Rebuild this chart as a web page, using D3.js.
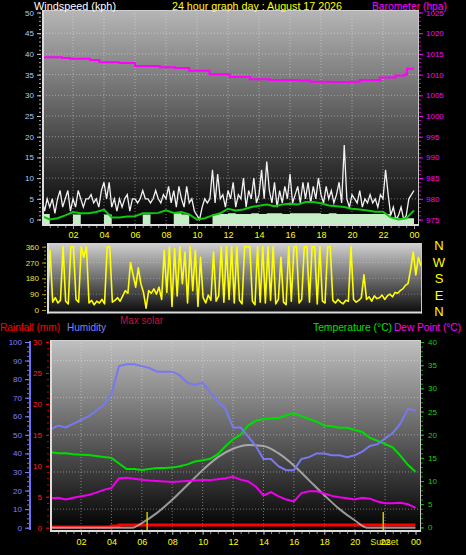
<!DOCTYPE html>
<html><head><meta charset="utf-8">
<script src="https://cdn.jsdelivr.net/npm/d3@7"></script>
<style>
body{margin:0;background:#000;}
svg{display:block;font-family:"Liberation Sans",Arial,sans-serif;}
</style></head>
<body><svg id="c" width="466" height="555"></svg>
<script>
// ---------------- DATA ----------------
const hourLabels = ["02","04","06","08","10","12","14","16","18","20","22","00"];
const windTicks = [0,5,10,15,20,25,30,35,40,45,50];
const baroTicks = [975,980,985,990,995,1000,1005,1010,1015,1020,1025];
const dirTicks = [0,90,180,270,360];
const dirLetters = ["N","W","S","E","N"];
const humTicks = [0,10,20,30,40,50,60,70,80,90,100];
const rainTicks = [0,5,10,15,20,25,30];
const tempTicks = [0,5,10,15,20,25,30,35,40];

// wind gust, kph, every 10 minutes from 00:00 to 24:00
const windGust = [
 5,2,5,3,5,1.5, 5,7,3,5,7,2, 5,3,7,5,3,5, 5,6,4,5,3,7,
 9,5,9,3,5,2, 5,3,5,6,2,5, 5,4,5,7,5,5, 4,5,7,5,4,6,
 5,8,4,7,3,8, 5,3,8,4,5,2, 1,0,3,5,4,5, 12,4,11,5,6,3,
 7,5,9,3,6,5, 10,3,7,5,10,4, 6,12,5,14,7,4, 9,3,7,4,8,5,
 11,4,6,8,4,9, 5,9,4,8,5,10, 6,4,8,5,7,4, 6,9,4,18,5,3,
 6,5,4,7,3,5, 4,6,4,5,3,6, 5,12,6,1,3,0, 1,3,0,1,5,6,
 7];
// average wind, kph, every 30 minutes
const windAvg = [0.8,0, 0.3,1.0, 1.8,1.5, 1.5,1.8, 2.4,0.5, 0.5,0.7, 0.8,1.5, 1.5,1.6,
 2.2,1.6, 1.8,1.2, 0,0.3, 1.0,1.5, 2.6,2.2, 2.4,3.0, 3.3,3.6, 3.2,3.6, 3.8,3.6,
 4.2,4.2, 3.9,3.4, 3.2,3.0, 2.6,2.4, 2.2,1.9, 1.9,0.5, 0,0.3, 2.2];
// wind speed, kph, every 30 minutes
const windSpeed = [1.3,0, 0,0, 1.2,0, 0,0, 1.2,0, 0,0, 0,1.2, 0,0, 0,1.5, 1.2,0, 0,0,
 1.3,1.3, 1.5,1.3, 1.3,1.5, 1.3,1.5, 1.5,1.3, 1.5,1.5, 1.5,1.5, 1.3,1.5, 1.3,1.3,
 1.3,1.3, 1.3,1.3, 1.3,0.5, 0.3,0.3, 0];
// barometer, hPa
const baroHours = [0,1.3,1.8,3.1,3.7,5.0,6.0,7.6,8.6,9.5,10.8,12.1,13.4,14.7,16.6,17.3,18.6,19.9,20.5,21.8,22.8,23.4,23.55,24];
const baroValues = [1014.2,1014.0,1013.8,1013.5,1013.0,1012.8,1012.1,1011.8,1011.6,1010.9,1010.1,1009.4,1008.9,1008.7,1008.6,1008.3,1008.2,1008.3,1008.7,1009.3,1009.8,1010.0,1011.4,1011.4];
// wind direction, degrees, every 10 minutes
const windDir = [
 60,340,45,70,40,55, 360,50,35,360,360,60, 45,360,300,360,40,55,
 30,50,40,60,35,360, 360,45,55,70,50,80, 110,95,270,200,130,240,
 150,100,10,110,95,120, 90,130,60,340,100,360, 20,350,80,360,150,330,
 40,360,110,340,20,300, 70,40,85,55,330,50, 80,360,45,360,60,360,
 40,360,55,35,360,360, 360,50,30,360,45,360, 40,360,55,360,35,60,
 300,45,30,360,50,360, 360,40,60,360,360,45, 360,360,35,360,50,40,
 360,360,55,40,60,45, 35,55,50,360,60,45, 55,70,200,60,75,50,
 80,65,70,85,60,80, 90,75,100,95,110,120, 140,150,230,330,200,300,
 250];
// humidity %, temperature °C, dew point °C, rainfall mm : every 30 minutes
const humidity = [53,55, 54,56, 58,60, 63,66, 72,87, 88,88, 87,86, 84,84, 84,82, 78,77,
 78,73, 68,64, 54,54, 49,44, 37,37, 33,31, 31,37, 38,40, 40,39, 39,38, 39,41, 44,45,
 48,51, 56,64, 63];
const temperature = [16.2,16.0, 16.0,15.8, 15.7,15.6, 15.4,15.2, 15.0,13.8, 12.6,12.6,
 12.4,12.6, 12.8,12.8, 12.9,13.2, 13.6,14.2, 14.5,14.8, 15.8,17.5, 19.0,20.0, 22.0,23.0,
 23.4,23.5, 23.6,24.2, 24.6,24.0, 23.4,22.8, 22.0,21.8, 21.5,21.5, 21.0,20.6, 19.3,18.7,
 18.0,17.3, 15.5,13.5, 12.0];
const dewPoint = [6.3,6.4, 6.0,6.4, 6.7,7.0, 7.5,8.1, 8.5,10.6, 10.7,10.5, 10.3,10.1,
 10.0,9.9, 9.8,9.9, 10.0,10.1, 10.2,10.2, 10.4,10.6, 10.9,10.3, 9.9,8.8, 6.9,7.6,
 6.7,6.0, 5.6,7.4, 7.8,7.8, 7.3,6.8, 6.5,6.3, 6.0,6.4, 6.2,5.6, 5.2,5.2, 5.3,5.0, 4.2];
const rainfall = [0,0, 0,0, 0,0, 0,0, 0.15,0.3, 0.3,0.3, 0.3,0.3, 0.3,0.3, 0.3,0.3, 0.3,0.3,
 0.3,0.3, 0.3,0.3, 0.3,0.3, 0.3,0.3, 0.3,0.3, 0.3,0.3, 0.3,0.3, 0.3,0.3, 0.3,0.3,
 0.3,0.3, 0.3,0.3, 0.3,0.3, 0.3,0.3, 0.3,0.3, 0.3];
// max solar, W/m²
const solarHours = [0,5.4,6,7,8,9,10,11,12,13,14,15,16,17,18,19,20,20.8,24];
const solarValues = [0,0,25,80,150,230,310,380,425,445,440,400,335,255,175,100,40,0,0];
const sunriseHour = 6.35, sunsetHour = 21.88;

// ---------------- HELPERS ----------------
const t10 = windGust.map((d,i)=>i/6);
const t30 = windAvg.map((d,i)=>i/2);
const hourTickVals = hourLabels.map((d,i)=>2*(i+1));
const svg = d3.select("#c");
const defs = svg.append("defs");
function grad(id, c0, c1){
  const g = defs.append("linearGradient").attr("id",id).attr("x1",0).attr("y1",0).attr("x2",0).attr("y2",1);
  g.append("stop").attr("offset",0).attr("stop-color",c0);
  g.append("stop").attr("offset",1).attr("stop-color",c1);
}
grad("gTop","#b6b6b6","#000000");
grad("gMid","#d2d2d2","#0a0a0a");
grad("gBot","#c0c0c0","#000000");
function clip(id,x,y,w,h){ defs.append("clipPath").attr("id",id).append("rect").attr("x",x).attr("y",y).attr("width",w).attr("height",h); }
function panel(x0,y0,x1,y1,fill){
  svg.append("rect").attr("x",x0).attr("y",y0).attr("width",x1-x0).attr("height",y1-y0).attr("fill",fill);
}
function border(x0,y0,x1,y1){
  const g = svg.append("g").attr("fill","none");
  g.append("line").attr("x1",x0).attr("x2",x1).attr("y1",y0+0.5).attr("y2",y0+0.5).attr("stroke","#d0d0d0");
  g.append("line").attr("x1",x1-0.5).attr("x2",x1-0.5).attr("y1",y0).attr("y2",y1).attr("stroke","#c8c8c8");
  g.append("line").attr("x1",x0+1).attr("x2",x0+1).attr("y1",y0).attr("y2",y1).attr("stroke","#dcdcdc").attr("stroke-width",2);
  g.append("line").attr("x1",x0).attr("x2",x1).attr("y1",y1-1).attr("y2",y1-1).attr("stroke","#dcdcdc").attr("stroke-width",2);
}
function grid(g, xs, ys, x0,y0,x1,y1, col){
  xs.forEach(x=>g.append("line").attr("x1",x).attr("x2",x).attr("y1",y0).attr("y2",y1));
  ys.forEach(y=>g.append("line").attr("x1",x0).attr("x2",x1).attr("y1",y).attr("y2",y));
  g.selectAll("line").attr("stroke",col).attr("stroke-dasharray","1,2").attr("stroke-width",1);
}
function styleAxis(g, lineCol, textCol, fs){
  g.select(".domain").remove();
  g.selectAll(".tick line").attr("stroke",lineCol);
  g.selectAll(".tick text").attr("fill",textCol).attr("font-size",fs).attr("font-family","Liberation Sans, Arial, sans-serif");
}
function txt(x,y,s,col,fs,anchor,len){
  const t = svg.append("text").attr("x",x).attr("y",y).text(s).attr("fill",col).attr("font-size",fs).attr("text-anchor",anchor||"start");
  if(len) t.attr("textLength",len).attr("lengthAdjust","spacingAndGlyphs");
  return t;
}

// ---------------- TOP PANEL ----------------
const xTop = d3.scaleLinear().domain([0,24]).range([42,414]);
const yWind = d3.scaleLinear().domain([0,50]).range([219.5,12.5]);
const yBaro = d3.scaleLinear().domain([975,1025]).range([219.5,12.5]);
panel(42,10,419,225,"url(#gTop)");
grid(svg.append("g"), hourTickVals.slice(0,11).map(xTop), windTicks.slice(1,10).map(yWind), 43,10,419,225, "rgba(235,235,235,0.45)");
clip("cTop",43,11,375,213);
const gT = svg.append("g").attr("clip-path","url(#cTop)");
gT.append("path").datum(windSpeed).attr("fill","#c6eec6")
  .attr("d", d3.area().curve(d3.curveStepAfter).x((d,i)=>xTop(t30[i])).y0(225).y1(d=>d>0?yWind(d):225));
gT.append("path").datum(windGust).attr("fill","none").attr("stroke","#f2f2f2").attr("stroke-width",1.3)
  .attr("d", d3.line().x((d,i)=>xTop(t10[i])).y(d=>yWind(d)));
gT.append("path").datum(windAvg).attr("fill","none").attr("stroke","#10c810").attr("stroke-width",2)
  .attr("d", d3.line().x((d,i)=>xTop(t30[i])).y(d=>yWind(d)));
gT.append("path").datum(baroValues).attr("fill","none").attr("stroke","#ff00ff").attr("stroke-width",2)
  .attr("d", d3.line().curve(d3.curveStepAfter).x((d,i)=>xTop(baroHours[i])).y(d=>yBaro(d)));
border(42,10,419,226);
// axes
let a = svg.append("g").attr("transform","translate(41,0)").call(d3.axisLeft(yWind).tickValues(d3.range(0,51,1)).tickSize(2).tickFormat(""));
styleAxis(a,"#aaaaaa","#fff",8);
a = svg.append("g").attr("transform","translate(41,0)").call(d3.axisLeft(yWind).tickValues(windTicks).tickSize(4).tickPadding(3));
styleAxis(a,"#cccccc","#a8d0ff",8);
a = svg.append("g").attr("transform","translate(419,0)").call(d3.axisRight(yBaro).tickValues(d3.range(975,1026,1)).tickSize(2).tickFormat(""));
styleAxis(a,"#cc00cc","#f0f",8);
a = svg.append("g").attr("transform","translate(419,0)").call(d3.axisRight(yBaro).tickValues(baroTicks).tickSize(4).tickPadding(3).tickFormat(d3.format("d")));
styleAxis(a,"#ff00ff","#ff00ff",8);
a = svg.append("g").attr("transform","translate(0,226)").call(d3.axisBottom(xTop).tickValues(d3.range(0.5,24.01,0.5)).tickSize(2).tickFormat(""));
styleAxis(a,"#888","#ff0",8);
a = svg.append("g").attr("transform","translate(0,226)").call(d3.axisBottom(xTop).tickValues(hourTickVals).tickSize(3).tickPadding(3).tickFormat((d,i)=>hourLabels[i]));
styleAxis(a,"#999","#ffff00",9);
txt(34,10,"Windspeed (kph)","#ffffff",11,"start",82);
txt(172,10,"24 hour graph day : August 17 2026","#ffff00",11,"start",170);
txt(372,10,"Barometer (hpa)","#ff00ff",11,"start",75);

// ---------------- MIDDLE PANEL ----------------
const xMid = d3.scaleLinear().domain([0,24]).range([47.5,421]);
const yDir = d3.scaleLinear().domain([0,360]).range([310,246.7]);
panel(47,243,422,313,"url(#gMid)");
grid(svg.append("g"), [], [90,180,270].map(yDir), 48,243,422,313, "rgba(230,230,230,0.35)");
clip("cMid",48,244,374,68);
svg.append("g").attr("clip-path","url(#cMid)").append("path").datum(windDir)
  .attr("fill","none").attr("stroke","#ffff00").attr("stroke-width",1.6).attr("stroke-linejoin","round")
  .attr("d", d3.line().x((d,i)=>xMid(t10[i])).y(d=>yDir(d)));
border(47,243,422,313.5);
a = svg.append("g").attr("transform","translate(46,0)").call(d3.axisLeft(yDir).tickValues(d3.range(0,361,22.5)).tickSize(2).tickFormat(""));
styleAxis(a,"#8a8a00","#ff0",8);
a = svg.append("g").attr("transform","translate(46,0)").call(d3.axisLeft(yDir).tickValues(dirTicks).tickSize(4).tickPadding(3));
styleAxis(a,"#a0a000","#e4e43a",8);
dirTicks.forEach((d,i)=>txt(439, [250,267,283,300,316][i], dirLetters[i], "#ffff00", 13, "middle"));

// ---------------- BOTTOM PANEL ----------------
const xBot = d3.scaleLinear().domain([0,24]).range([50.6,415.5]);
const yHum = d3.scaleLinear().domain([0,100]).range([527.7,342]);
const yRain = d3.scaleLinear().domain([0,30]).range([527.7,342]);
const yTemp = d3.scaleLinear().domain([0,40]).range([527.4,342]);
const ySolar = d3.scaleLinear().domain([0,1000]).range([527.7,342]);
panel(50,340,421,531,"url(#gBot)");
grid(svg.append("g"), hourTickVals.slice(0,11).map(xBot), [10,30,50,70,90].map(yHum), 51,340,421,531, "rgba(235,235,235,0.45)");
clip("cBot",51,341,369,189);
const gB = svg.append("g").attr("clip-path","url(#cBot)");
gB.append("path").datum(rainfall).attr("fill","none").attr("stroke","#ff0000").attr("stroke-width",3)
  .attr("d", d3.line().curve(d3.curveStepAfter).x((d,i)=>xBot(t30[i])).y(d=>yRain(d)-0.8));
gB.append("path").datum(solarValues).attr("fill","none").attr("stroke","#c4c4c4").attr("stroke-width",2).attr("opacity",0.75)
  .attr("d", d3.line().curve(d3.curveMonotoneX).x((d,i)=>xBot(solarHours[i])).y(d=>ySolar(d)));
gB.append("path").datum(dewPoint).attr("fill","none").attr("stroke","#ee00ee").attr("stroke-width",2)
  .attr("d", d3.line().x((d,i)=>xBot(t30[i])).y(d=>yTemp(d)));
gB.append("path").datum(temperature).attr("fill","none").attr("stroke","#00dd00").attr("stroke-width",2)
  .attr("d", d3.line().x((d,i)=>xBot(t30[i])).y(d=>yTemp(d)));
gB.append("path").datum(humidity).attr("fill","none").attr("stroke","#7878f0").attr("stroke-width",2)
  .attr("d", d3.line().x((d,i)=>xBot(t30[i])).y(d=>yHum(d)));
[sunriseHour,sunsetHour].forEach(h=>gB.append("line").attr("x1",xBot(h)).attr("x2",xBot(h)).attr("y1",512).attr("y2",532).attr("stroke","#c8c800").attr("stroke-width",1.5));
border(50,340,421,532);
// humidity axis
svg.append("line").attr("x1",30).attr("x2",30).attr("y1",341).attr("y2",530).attr("stroke","#7070f0").attr("stroke-width",2);
a = svg.append("g").attr("transform","translate(29,0)").call(d3.axisLeft(yHum).tickValues(d3.range(0,101,2.5)).tickSize(2).tickFormat(""));
styleAxis(a,"#7070e0","#8080ff",8);
a = svg.append("g").attr("transform","translate(29,0)").call(d3.axisLeft(yHum).tickValues(humTicks).tickSize(4).tickPadding(3));
styleAxis(a,"#8080ff","#8080ff",8);
// rain axis
a = svg.append("g").attr("transform","translate(49,0)").call(d3.axisLeft(yRain).tickValues(d3.range(0,31,1)).tickSize(2).tickFormat(""));
styleAxis(a,"#cc0000","#f00",8);
a = svg.append("g").attr("transform","translate(49,0)").call(d3.axisLeft(yRain).tickValues(rainTicks).tickSize(3).tickPadding(4));
styleAxis(a,"#ff0000","#ff2020",8);
// temperature axis
a = svg.append("g").attr("transform","translate(421,0)").call(d3.axisRight(yTemp).tickValues(d3.range(0,41,1)).tickSize(2).tickFormat(""));
styleAxis(a,"#00aa00","#0f0",8);
a = svg.append("g").attr("transform","translate(421,0)").call(d3.axisRight(yTemp).tickValues(tempTicks).tickSize(3).tickPadding(4));
styleAxis(a,"#00cc00","#10d010",8);
// x axis
a = svg.append("g").attr("transform","translate(0,532)").call(d3.axisBottom(xBot).tickValues(d3.range(0.5,24.01,0.5)).tickSize(2).tickFormat(""));
styleAxis(a,"#888","#ff0",8);
txt(xBot(sunsetHour)+1,545,"Sunset","#e8e800",9,"middle");
a = svg.append("g").attr("transform","translate(0,532)").call(d3.axisBottom(xBot).tickValues(hourTickVals).tickSize(3).tickPadding(4).tickFormat((d,i)=>hourLabels[i]));
styleAxis(a,"#999","#ffff00",9);
// legends
txt(0,331,"Rainfall (mm)","#ff0000",11,"start",60);
txt(67,331,"Humidity","#8080ff",11,"start",39);
txt(120,324,"Max solar","#c0143c",11,"start",43);
txt(313,331,"Temperature (°C)","#00e000",11,"start",79);
txt(394,331,"Dew Point (°C)","#ff00ff",11,"start",67);
</script>
</body></html>
